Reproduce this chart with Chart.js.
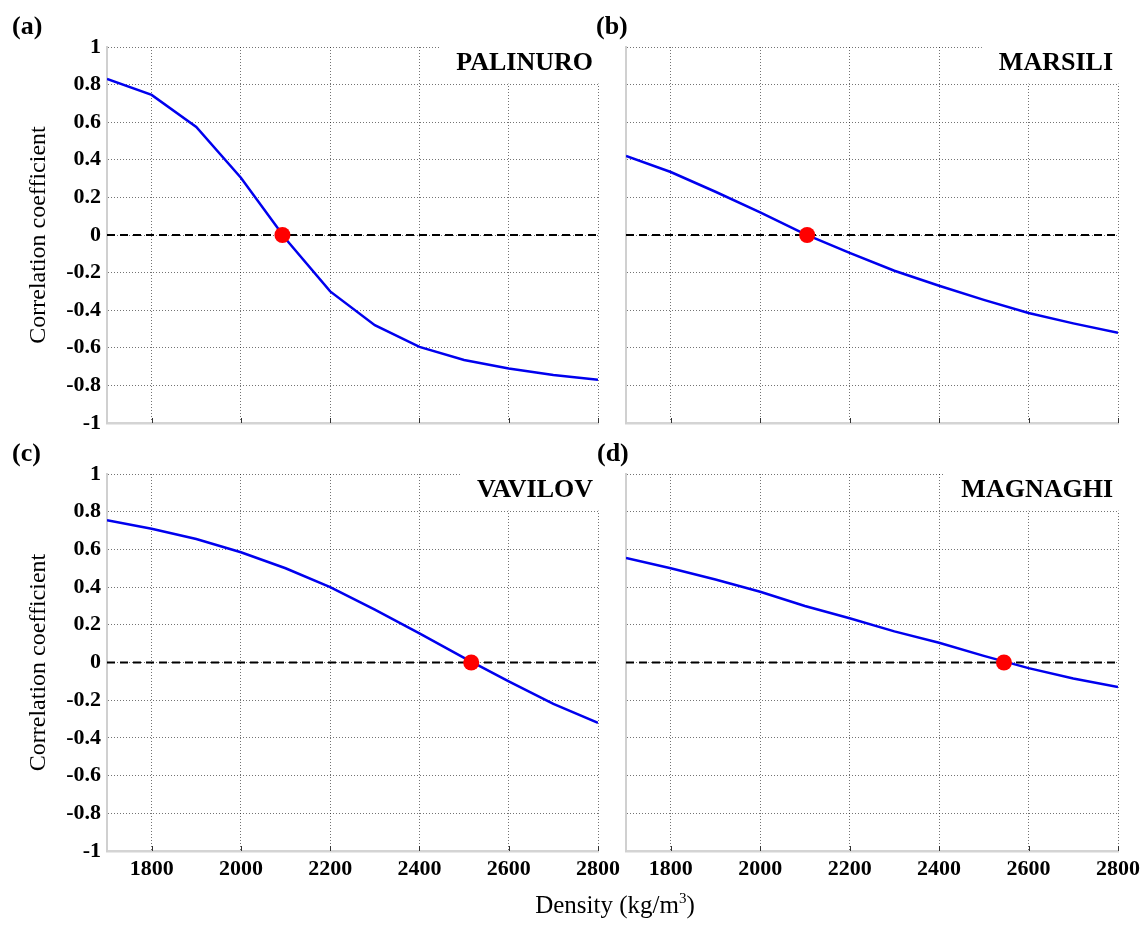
<!DOCTYPE html>
<html>
<head>
<meta charset="utf-8">
<title>Correlation coefficient vs density</title>
<script src="https://cdn.jsdelivr.net/npm/chart.js@4.4.1/dist/chart.umd.min.js"></script>
<style>
    html, body { margin: 0; padding: 0; background: #fff; }
    #page { position: relative; width: 1141px; height: 926px; overflow: hidden; font-family: "Liberation Serif", "Times New Roman", serif; color: #000; }
    #page canvas { position: absolute; left: 0; top: 0; }
    .panel-tag { position: absolute; font-weight: bold; font-size: 26px; line-height: 1; }
    #xTitle { position: absolute; left: 415px; width: 400px; top: 892px; text-align: center; font-size: 25px; line-height: 1; }
    #xTitle sup { font-size: 15px; vertical-align: 10px; line-height: 0; }
</style>
</head>
<body>
<div id="page">
    <canvas id="chartA" width="1141" height="926"></canvas>
    <canvas id="chartB" width="1141" height="926"></canvas>
    <canvas id="chartC" width="1141" height="926"></canvas>
    <canvas id="chartD" width="1141" height="926"></canvas>
    <div class="panel-tag" style="left:12px; top:13px;">(a)</div>
    <div class="panel-tag" style="left:596px; top:13px;">(b)</div>
    <div class="panel-tag" style="left:12px; top:440px;">(c)</div>
    <div class="panel-tag" style="left:597px; top:440px;">(d)</div>
    <div id="xTitle">Density (kg/m<sup>3</sup>)</div>
</div>
<script>
// ==========================================
// 1. DATA
// ==========================================
const densityValues = [1700, 1800, 1900, 2000, 2100, 2200, 2300, 2400, 2500, 2600, 2700, 2800];

const palinuroValues = [0.83, 0.745, 0.575, 0.305, -0.02, -0.30, -0.48, -0.595, -0.665, -0.71, -0.745, -0.77];
const marsiliValues  = [0.42, 0.335, 0.23, 0.12, 0.005, -0.095, -0.19, -0.27, -0.345, -0.415, -0.47, -0.52];
const vavilovValues  = [0.755, 0.71, 0.655, 0.585, 0.50, 0.40, 0.28, 0.155, 0.025, -0.10, -0.22, -0.32];
const magnaghiValues = [0.555, 0.50, 0.44, 0.375, 0.30, 0.235, 0.165, 0.105, 0.035, -0.03, -0.085, -0.13];

const zeroCrossings = [2093, 2105, 2516, 2545];
const panelNames = ['PALINURO', 'MARSILI', 'VAVILOV', 'MAGNAGHI'];

const yTickValues = [-1, -0.8, -0.6, -0.4, -0.2, 0, 0.2, 0.4, 0.6, 0.8, 1];
const yTickLabels = ['-1', '-0.8', '-0.6', '-0.4', '-0.2', '0', '0.2', '0.4', '0.6', '0.8', '1'];
const xTickValues = [1800, 2000, 2200, 2400, 2600, 2800];
const xTickLabels = ['1800', '2000', '2200', '2400', '2600', '2800'];

// ==========================================
// 2. LAYOUT PANEL (posisi area plot)
// ==========================================
const PAGE_W = 1141;
const PAGE_H = 926;
const panels = [
    { canvas: 'chartA', values: palinuroValues, area: { left: 107, top: 47, right: 598, bottom: 423 }, showY: true,  showX: false },
    { canvas: 'chartB', values: marsiliValues,  area: { left: 626, top: 47, right: 1118, bottom: 423 }, showY: false, showX: false },
    { canvas: 'chartC', values: vavilovValues,  area: { left: 107, top: 474, right: 598, bottom: 851 }, showY: true,  showX: true },
    { canvas: 'chartD', values: magnaghiValues, area: { left: 626, top: 474, right: 1118, bottom: 851 }, showY: false, showX: true }
];

const tickFont = { family: '"Liberation Serif", "Times New Roman", serif', size: 22, weight: 'bold' };
const gridColor = 'rgba(0,0,0,0.55)';

// plugin: judul panel dengan kotak putih + tanda tick bawah
const panelPlugin = {
    id: 'panelDecor',
    afterDraw(chart, args, opts) {
        const { ctx, chartArea, scales } = chart;
        ctx.save();

        // tick kecil di sumbu bawah
        ctx.strokeStyle = '#333';
        ctx.lineWidth = 1;
        xTickValues.forEach(v => {
            const x = Math.round(scales.x.getPixelForValue(v)) + 0.5;
            ctx.beginPath();
            ctx.moveTo(x, chartArea.bottom);
            ctx.lineTo(x, chartArea.bottom - 5);
            ctx.stroke();
        });

        // nama gunung bawah laut
        ctx.font = 'bold 26px "Liberation Serif", "Times New Roman", serif';
        const textW = ctx.measureText(opts.name).width;
        const textRight = chartArea.right - 5;
        const boxLeft = textRight - textW - 17;
        const boxBottom = scales.y.getPixelForValue(0.8) - 1;
        ctx.fillStyle = '#fff';
        ctx.fillRect(boxLeft, chartArea.top - 3, chartArea.right + 3 - boxLeft, boxBottom - chartArea.top + 3);
        ctx.fillStyle = '#000';
        ctx.textAlign = 'right';
        ctx.textBaseline = 'alphabetic';
        ctx.fillText(opts.name, textRight, chartArea.top + 23);
        ctx.restore();
    }
};

// ==========================================
// 3. BANGUN GRAFIK
// ==========================================
function buildPanel(panel, index) {
    const canvas = document.getElementById(panel.canvas);
    const ca = panel.area;
    const yAxisWidth = panel.showY ? 87 : 0;
    const xAxisHeight = panel.showX ? 40 : 0;

    const series = densityValues.map((d, i) => ({ x: d, y: panel.values[i] }));
    const zeroLine = [
        { x: densityValues[0], y: 0 },
        { x: densityValues[densityValues.length - 1], y: 0 }
    ];

    new Chart(canvas, {
        type: 'line',
        data: {
            datasets: [
                {
                    data: [{ x: zeroCrossings[index], y: 0 }],
                    showLine: false,
                    pointRadius: 8,
                    pointBackgroundColor: '#ff0000',
                    pointBorderColor: '#ff0000',
                    pointBorderWidth: 0
                },
                {
                    data: series,
                    borderColor: '#0000ee',
                    borderWidth: 2.5,
                    pointRadius: 0,
                    tension: 0,
                    fill: false
                },
                {
                    data: zeroLine,
                    borderColor: '#000',
                    borderWidth: 2,
                    borderDash: [8, 5],
                    pointRadius: 0,
                    fill: false
                }
            ]
        },
        options: {
            responsive: false,
            animation: false,
            events: [],
            layout: {
                padding: {
                    left: ca.left - yAxisWidth,
                    top: ca.top,
                    right: PAGE_W - ca.right,
                    bottom: PAGE_H - ca.bottom - xAxisHeight
                }
            },
            plugins: {
                legend: { display: false },
                tooltip: { enabled: false },
                panelDecor: { name: panelNames[index] }
            },
            scales: {
                x: {
                    type: 'linear',
                    min: densityValues[0],
                    max: densityValues[densityValues.length - 1],
                    afterBuildTicks: s => { s.ticks = xTickValues.map(v => ({ value: v })); },
                    afterFit: s => { s.height = xAxisHeight; s.paddingLeft = 0; s.paddingRight = 0; },
                    ticks: {
                        display: panel.showX,
                        autoSkip: false,
                        maxRotation: 0,
                        padding: 5,
                        color: '#000',
                        font: tickFont,
                        callback: (v, i) => xTickLabels[i]
                    },
                    grid: { color: gridColor, lineWidth: 1, drawTicks: false },
                    border: { display: true, color: '#d4d4d4', width: 2.5, dash: [1, 2] }
                },
                y: {
                    type: 'linear',
                    min: -1,
                    max: 1,
                    afterBuildTicks: s => { s.ticks = yTickValues.map(v => ({ value: v })); },
                    afterFit: s => { s.width = yAxisWidth; s.paddingTop = 0; s.paddingBottom = 0; },
                    ticks: {
                        display: panel.showY,
                        padding: 6,
                        color: '#000',
                        font: tickFont,
                        callback: (v, i) => yTickLabels[i]
                    },
                    title: {
                        display: panel.showY,
                        text: 'Correlation coefficient',
                        color: '#000',
                        font: { family: '"Liberation Serif", "Times New Roman", serif', size: 24, weight: 'normal' }
                    },
                    grid: { color: gridColor, lineWidth: 1, drawTicks: false },
                    border: { display: true, color: '#d0d0d0', width: 2, dash: [1, 2] }
                }
            }
        },
        plugins: [panelPlugin]
    });
}

document.addEventListener('DOMContentLoaded', () => {
    panels.forEach((p, i) => buildPanel(p, i));
});
</script>
</body>
</html>
